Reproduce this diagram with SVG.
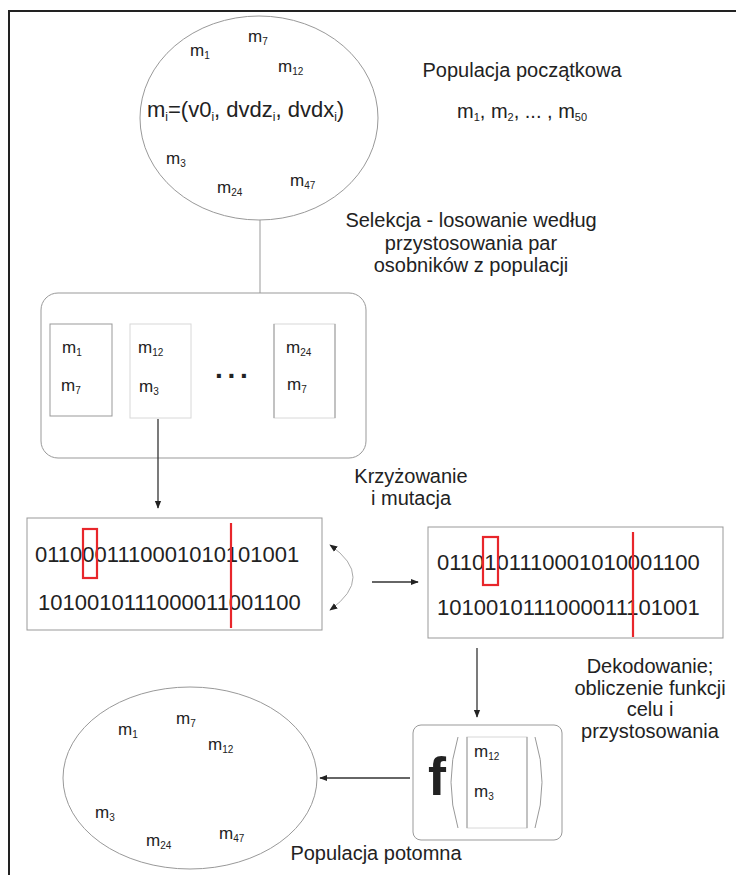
<svg xmlns="http://www.w3.org/2000/svg" width="736" height="875" viewBox="0 0 736 875">
  <style>
    text { font-family: "Liberation Sans", Arial, sans-serif; fill: #222; }
    .lbl { font-size: 20px; }
    .m { font-size: 17px; }
    .sub { font-size: 10px; }
    .bin { font-size: 22px; }
    .thin { fill: none; stroke: #999; stroke-width: 1; }
    .faint { fill: none; stroke: #d8d8d8; stroke-width: 1; }
    .arrow { fill: none; stroke: #333; stroke-width: 1.3; marker-end: url(#ah); }
    .cut { fill: none; stroke: #e8262b; stroke-width: 2.2; }
  </style>
  <defs>
    <marker id="ah" viewBox="0 0 10 10" refX="9" refY="5" markerWidth="8" markerHeight="8" markerUnits="userSpaceOnUse" orient="auto-start-reverse">
      <path d="M0,1 L10,5 L0,9 z" fill="#222"/>
    </marker>
  </defs>

  <rect width="736" height="875" fill="#fff"/>
  <!-- frame -->
  <path d="M9,875 V11 H736" fill="none" stroke="#222" stroke-width="2"/>

  <!-- initial population -->
  <g id="population-initial">
    <ellipse cx="259" cy="118" rx="119" ry="102" class="thin"/>
    <text class="m" x="190" y="56">m<tspan class="sub" dy="3">1</tspan></text>
    <text class="m" x="248" y="42">m<tspan class="sub" dy="3">7</tspan></text>
    <text class="m" x="278" y="72">m<tspan class="sub" dy="3">12</tspan></text>
    <text x="147" y="117" font-size="22">m<tspan font-size="12" dy="4">i</tspan><tspan dy="-4">=(v0</tspan><tspan font-size="12" dy="4">i</tspan><tspan dy="-4">, dvdz</tspan><tspan font-size="12" dy="4">i</tspan><tspan dy="-4">, dvdx</tspan><tspan font-size="12" dy="4">i</tspan><tspan dy="-4">)</tspan></text>
    <text class="m" x="166" y="164">m<tspan class="sub" dy="3">3</tspan></text>
    <text class="m" x="217" y="193">m<tspan class="sub" dy="3">24</tspan></text>
    <text class="m" x="290" y="186">m<tspan class="sub" dy="3">47</tspan></text>
  </g>

  <g id="label-initial">
    <text class="lbl" x="522" y="77" text-anchor="middle" font-size="19.5">Populacja początkowa</text>
    <text class="lbl" x="457" y="118">m<tspan font-size="11" dy="3">1</tspan><tspan dy="-3">, m</tspan><tspan font-size="11" dy="3">2</tspan><tspan dy="-3">, ... , m</tspan><tspan font-size="11" dy="3">50</tspan></text>
  </g>

  <g id="label-selection">
    <text class="lbl" x="471" y="227" text-anchor="middle">Selekcja - losowanie według</text>
    <text class="lbl" x="471" y="250" text-anchor="middle">przystosowania par</text>
    <text class="lbl" x="471" y="272" text-anchor="middle">osobników z populacji</text>
  </g>

  <!-- selected pairs -->
  <g id="pairs">
    <rect x="41" y="293" width="325" height="165" rx="17" class="thin"/>
    <rect x="50" y="324" width="62" height="92" class="thin"/>
    <text class="m" x="62" y="353">m<tspan class="sub" dy="3">1</tspan></text>
    <text class="m" x="61" y="391">m<tspan class="sub" dy="3">7</tspan></text>
    <rect x="130" y="324" width="61" height="94" class="faint"/>
    <text class="m" x="138" y="353">m<tspan class="sub" dy="3">12</tspan></text>
    <text class="m" x="139" y="392">m<tspan class="sub" dy="3">3</tspan></text>
    <text x="215" y="378" font-size="28" font-weight="bold" letter-spacing="4.7">...</text>
    <rect x="274" y="324" width="61" height="94" class="faint"/>
    <path d="M274,324 V418 M335,324 V418" class="thin"/>
    <text class="m" x="286" y="353">m<tspan class="sub" dy="3">24</tspan></text>
    <text class="m" x="287" y="390">m<tspan class="sub" dy="3">7</tspan></text>
  </g>

  <g id="label-crossover">
    <text class="lbl" x="411" y="483" text-anchor="middle">Krzyżowanie</text>
    <text class="lbl" x="411" y="505" text-anchor="middle">i mutacja</text>
  </g>

  <!-- parents -->
  <g id="parents">
    <rect x="27" y="518" width="295" height="112" class="thin"/>
    <text class="bin" x="35" y="562">0110001110001010101001</text>
    <text class="bin" x="38" y="610">1010010111000011001100</text>
    <rect x="83" y="529" width="14" height="49" class="cut"/>
    <line x1="231" y1="523" x2="231" y2="628" class="cut"/>
  </g>

  <!-- offspring -->
  <g id="offspring">
    <rect x="428" y="527" width="295" height="111" class="thin"/>
    <text class="bin" x="437" y="570">0110101110001010001100</text>
    <text class="bin" x="437" y="615">1010010111000011101001</text>
    <rect x="483" y="537" width="15" height="48" class="cut"/>
    <line x1="633" y1="532" x2="633" y2="637" class="cut"/>
  </g>

  <g id="label-decoding">
    <text class="lbl" x="650" y="673" text-anchor="middle">Dekodowanie;</text>
    <text class="lbl" x="650" y="695" text-anchor="middle">obliczenie funkcji</text>
    <text class="lbl" x="650" y="716" text-anchor="middle">celu i</text>
    <text class="lbl" x="650" y="738" text-anchor="middle">przystosowania</text>
  </g>

  <!-- fitness evaluation -->
  <g id="fitness">
    <rect x="413" y="725" width="149" height="115" rx="8" class="thin"/>
    <text x="428" y="795" font-size="54" font-weight="bold">f</text>
    <path d="M458,737 Q444,782 458,828" class="thin"/>
    <path d="M535,737 Q549,782 535,828" class="thin"/>
    <rect x="467" y="737" width="60" height="91" class="faint"/>
    <path d="M467,737 V828 M527,737 V828" class="thin"/>
    <text class="m" x="474" y="757">m<tspan class="sub" dy="3">12</tspan></text>
    <text class="m" x="474" y="797">m<tspan class="sub" dy="3">3</tspan></text>
  </g>

  <!-- next generation -->
  <g id="population-next">
    <ellipse cx="190" cy="778" rx="127" ry="91" class="thin"/>
    <text class="m" x="118" y="735">m<tspan class="sub" dy="3">1</tspan></text>
    <text class="m" x="176" y="724">m<tspan class="sub" dy="3">7</tspan></text>
    <text class="m" x="208" y="750">m<tspan class="sub" dy="3">12</tspan></text>
    <text class="m" x="95" y="818">m<tspan class="sub" dy="3">3</tspan></text>
    <text class="m" x="146" y="846">m<tspan class="sub" dy="3">24</tspan></text>
    <text class="m" x="219" y="839">m<tspan class="sub" dy="3">47</tspan></text>
  </g>

  <g id="label-next">
    <text class="lbl" x="376" y="860" text-anchor="middle" font-size="19">Populacja potomna</text>
  </g>

  <!-- connectors -->
  <g id="connectors">
    <line x1="260" y1="220" x2="260" y2="293" class="thin"/>
    <line x1="158" y1="419" x2="158" y2="508" class="arrow"/>
    <path d="M330,545 Q376,577 330,610" fill="none" stroke="#aaa" stroke-width="1" marker-start="url(#ah)" marker-end="url(#ah)"/>
    <line x1="372" y1="582" x2="418" y2="582" class="arrow"/>
    <line x1="477" y1="648" x2="477" y2="717" class="arrow"/>
    <line x1="410" y1="778" x2="320" y2="778" class="arrow"/>
  </g>
</svg>
